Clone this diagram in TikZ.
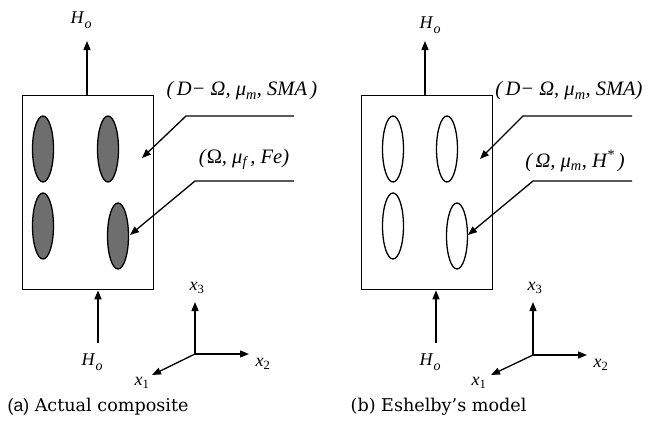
\documentclass[tikz,border=0pt]{standalone}
\usepackage{fontspec}
\setmainfont{Liberation Serif}
\newfontfamily\capserif{DejaVu Serif}
\newfontfamily\capsans{Liberation Sans}
\usetikzlibrary{arrows.meta,shapes.geometric}
\newcommand{\Hsub}{H\kern1pt\raisebox{-4.5pt}{\fontsize{14}{16}\selectfont o}}
\begin{document}
\begin{tikzpicture}[x=1pt,y=-1pt,line width=1.3pt,
  tip/.style={-{Triangle[length=9pt,width=7pt]}},
  panel/.style={draw,rectangle,minimum width=131pt,minimum height=194pt,inner sep=0pt,anchor=north west},
  incl/.style={draw,ellipse,minimum width=21pt,minimum height=66pt,inner sep=0pt,line width=1.3pt},
  fe/.style={incl,fill=black!57},
  lbl/.style={font=\fontsize{20.5}{24}\selectfont\itshape,inner sep=0pt},
  hlbl/.style={font=\fontsize{18}{21}\selectfont\itshape,inner sep=0pt},
  axl/.style={font=\fontsize{18}{21}\selectfont,inner sep=0pt},
  captext/.style={font=\fontsize{17.6}{21}\selectfont\capserif,inner sep=0pt,anchor=west}]
\useasboundingbox (0,0) rectangle (649,426);
% ---------- panel (a)
\node[panel] (boxa) at (22,95) {};
\node[fe] (ea1) at (43,149) {};
\node[fe] (ea2) at (108,149) {};
\node[fe] (ea3) at (43,226) {};
\node[fe] (ea4) at (118,236) {};
\coordinate (hta) at (87,41);
\draw[tip] (boxa.north -| hta) -- (hta);
\node[hlbl] (htla) at (81,20) {\Hsub};
\coordinate (hba) at (98,343);
\draw[tip] (hba) -- (boxa.south -| hba);
\node[hlbl] (hbla) at (92,362) {\Hsub};
\coordinate (ra1) at (294,116);
\coordinate (ka1) at (186,116);
\coordinate (pa1) at (142,158);
\draw[tip] (ra1) -- (ka1) -- (pa1);
\node[lbl] (ma) at (242,91) {(\,D− Ω, μ\textsubscript{m}, SMA\,)};
\coordinate (ra2) at (294,181);
\coordinate (ka2) at (195,181);
\coordinate (pa2) at (130,235);
\draw[tip] (ra2) -- (ka2) -- (pa2);
\node[lbl] (fa) at (244,159) {(\textup{Ω}, μ\textsubscript{f}\,, Fe)};
\coordinate (oa) at (195,354);
\coordinate (x3a) at (195,302);
\coordinate (x2a) at (249,354);
\coordinate (x1a) at (152,375);
\draw[tip] (oa) -- (x3a);
\draw[tip] (oa) -- (x2a);
\draw[tip] (oa) -- (x1a);
\node[axl] (lx3a) at (197,288) {\textit{x}\textsubscript{3}};
\node[axl] (lx2a) at (263,364) {\textit{x}\textsubscript{2}};
\node[axl] (lx1a) at (142,383) {\textit{x}\textsubscript{1}};
\node[captext] (capa) at (7,407) {{\capsans (a)} Actual composite};
% ---------- panel (b)
\node[panel] (boxb) at (361,95) {};
\node[incl] (eb1) at (393,149) {};
\node[incl] (eb2) at (447,149) {};
\node[incl] (eb3) at (393,226) {};
\node[incl] (eb4) at (457,236) {};
\coordinate (htb) at (425,41);
\draw[tip] (boxb.north -| htb) -- (htb);
\node[hlbl] (htlb) at (430,25) {\Hsub};
\coordinate (hbb) at (436,343);
\draw[tip] (hbb) -- (boxb.south -| hbb);
\node[hlbl] (hblb) at (430,362) {\Hsub};
\coordinate (rb1) at (632,116);
\coordinate (kb1) at (523,116);
\coordinate (pb1) at (480,159);
\draw[tip] (rb1) -- (kb1) -- (pb1);
\node[lbl] (mb) at (569,91) {(\,D− Ω, μ\textsubscript{m}, SMA)};
\coordinate (rb2) at (632,181);
\coordinate (kb2) at (533,181);
\coordinate (pb2) at (468,235);
\draw[tip] (rb2) -- (kb2) -- (pb2);
\node[lbl] (hb) at (575,161) {(\,Ω, μ\textsubscript{m}, H\textsuperscript{*}\,)};
\coordinate (ob) at (533,355);
\coordinate (x3b) at (533,302);
\coordinate (x2b) at (587,355);
\coordinate (x1b) at (491,375);
\draw[tip] (ob) -- (x3b);
\draw[tip] (ob) -- (x2b);
\draw[tip] (ob) -- (x1b);
\node[axl] (lx3b) at (535,288) {\textit{x}\textsubscript{3}};
\node[axl] (lx2b) at (601,365) {\textit{x}\textsubscript{2}};
\node[axl] (lx1b) at (479,383) {\textit{x}\textsubscript{1}};
\node[captext] (capb) at (350,407) {(b) Eshelby’s model};
\end{tikzpicture}
\end{document}
